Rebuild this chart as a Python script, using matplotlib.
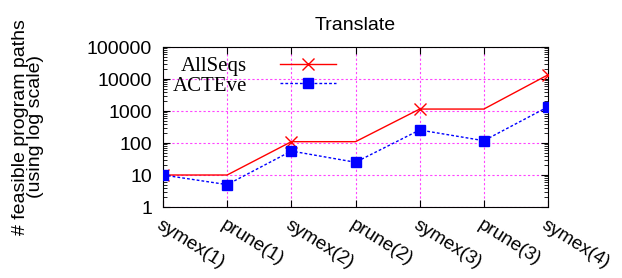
import numpy as np
import matplotlib
matplotlib.use("Agg")
import matplotlib.pyplot as plt
from matplotlib.ticker import LogLocator, NullFormatter

stages = ["symex(1)", "prune(1)", "symex(2)", "prune(2)", "symex(3)", "prune(3)", "symex(4)"]
allseqs = [10, 10, 110, 110, 1150, 1150, 13500]
acteve = [10, 5, 56, 25, 255, 118, 1350]

plt.rcParams["font.family"] = ["Liberation Sans", "DejaVu Sans"]

fig = plt.figure(figsize=(6.22, 2.78), dpi=100)
ax = fig.add_axes([163 / 622, 1 - 207 / 278, (548 - 163) / 622, (207 - 47) / 278])

x = np.arange(len(stages))
ax.plot(x, allseqs, color="#ff0000", lw=1, marker="x", ms=8, mew=1,
        markevery=[0, 2, 4, 6], label="AllSeqs", zorder=3)
ax.plot(x, acteve, color="#0000ff", lw=1, ls=(0, (2, 1.5)), marker="s", ms=6.5,
        label="ACTEve", zorder=4)

ax.set_yscale("log")
ax.set_ylim(1, 100000)
ax.set_xlim(0, len(stages) - 1)
ax.yaxis.set_minor_locator(LogLocator(base=10, subs=np.arange(2, 10), numticks=10))
ax.yaxis.set_minor_formatter(NullFormatter())
ax.set_yticks([1, 10, 100, 1000, 10000, 100000])
ax.set_yticklabels(["1", "10", "100", "1000", "10000", "100000"], fontsize=14)

ax.set_xticks(x)
ax.set_xticklabels(stages, rotation=-32, ha="left", va="top", rotation_mode="anchor",
                   fontsize=13.5)

ax.tick_params(which="both", direction="in", top=True, right=True)
ax.tick_params(which="major", length=5, pad=8)
ax.tick_params(which="minor", length=3)
ax.tick_params(axis="x", pad=7)

ax.grid(True, which="major", color="#ff44ff", ls=(0, (2, 2)), lw=0.8)

ax.set_title("Translate", fontsize=14, pad=12)
ax.set_ylabel("# feasible program paths\n(using log scale)", fontsize=14, linespacing=0.85)
ax.yaxis.set_label_coords(-0.31, 0.5)

ax.legend(loc="upper left", frameon=False, markerfirst=False, handlelength=2.7,
          prop={"family": "Liberation Serif", "size": 15}, borderaxespad=0.1,
          labelspacing=0.0, handletextpad=1.6, borderpad=0.35)

fig.savefig("out.png", dpi=100)
